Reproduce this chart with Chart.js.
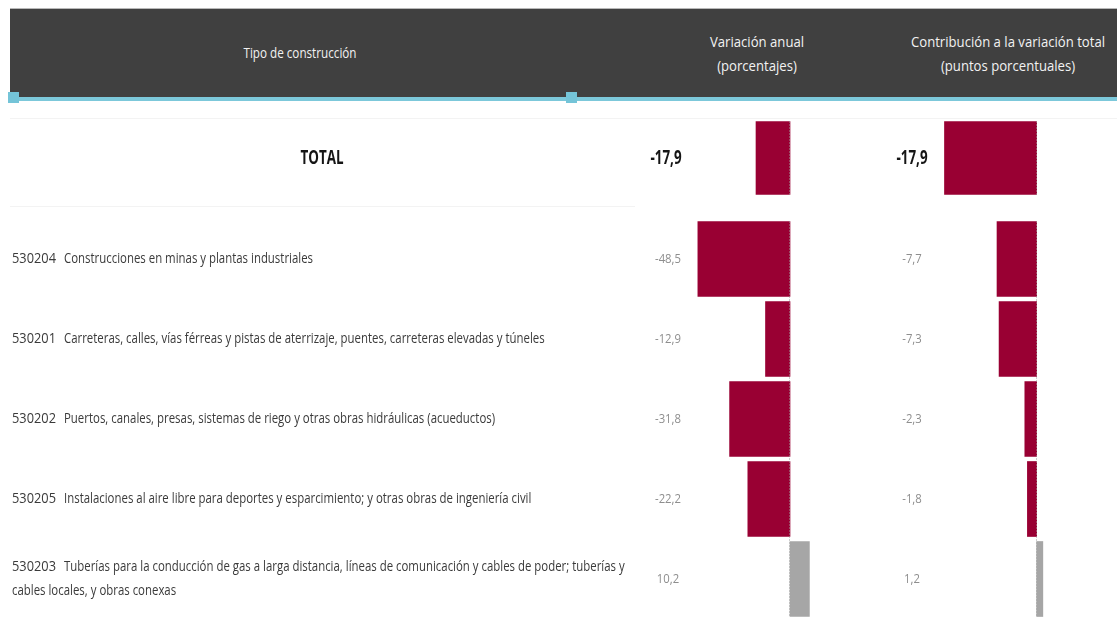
<!DOCTYPE html>
<html>
<head>
<meta charset="utf-8">
<script src="https://cdn.jsdelivr.net/npm/chart.js@4.4.1/dist/chart.umd.min.js"></script>
<style>
  html, body { margin: 0; padding: 0; background: #ffffff; width: 1117px; height: 617px; overflow: hidden; }
  body { position: relative; font-family: "Open Sans", sans-serif; }
  #header { position: absolute; left: 10px; top: 8px; width: 1107px; height: 89px; background: #404040; border-top: 1px solid #b8b8b8; box-sizing: border-box; }
  #cyan { position: absolute; left: 10px; top: 97px; width: 1107px; height: 4px; background: #7cc8da; }
  .sq { position: absolute; top: 92px; width: 11px; height: 11px; background: #74c4d8; }
  .htxt { position: absolute; color: #f2f2f2; font-size: 14px; text-align: center; line-height: 24px; white-space: nowrap; transform-origin: 50% 50%; }
  canvas { position: absolute; left: 0; }
  .sep { position: absolute; height: 1px; background: #f3f3f3; }
</style>
</head>
<body>
<div id="header"></div>
<div id="cyan"></div>
<div class="sq" style="left:8px"></div>
<div class="sq" style="left:566px"></div>
<div class="htxt" id="h0" style="left:150px; width:300px; top:41px;"></div>
<div class="htxt" id="h1" style="left:657px; width:200px; top:30px;"></div>
<div class="htxt" id="h2" style="left:883px; width:250px; top:30px;"></div>
<div class="sep" style="left:10px; top:118px; width:1107px;"></div>
<div class="sep" style="left:10px; top:206px; width:625px;"></div>
<canvas id="cTotal" width="1117" height="80" style="top:118px"></canvas>
<canvas id="cRows" width="1117" height="400" style="top:219px"></canvas>
<script>
// ---------- data ----------
const headerLabels = ["Tipo de construcción", "Variación anual<br>(porcentajes)", "Contribución a la variación total<br>(puntos porcentuales)"];
const totalLabel = ["TOTAL"];
const totalVariation = [-17.9];
const totalContribution = [-17.9];
const codes = ["530204", "530201", "530202", "530205", "530203"];
const categories = [
  "Construcciones en minas y plantas industriales",
  "Carreteras, calles, vías férreas y pistas de aterrizaje, puentes, carreteras elevadas y túneles",
  "Puertos, canales, presas, sistemas de riego y otras obras hidráulicas (acueductos)",
  "Instalaciones al aire libre para deportes y esparcimiento; y otras obras de ingeniería civil",
  "Tuberías para la conducción de gas a larga distancia, líneas de comunicación y cables de poder; tuberías y cables locales, y obras conexas"
];
const annualVariation = [-48.5, -12.9, -31.8, -22.2, 10.2];
const contribution = [-7.7, -7.3, -2.3, -1.8, 1.2];

// ---------- font calibration (the source font is a condensed humanist sans) ----------
const FAM = "'Open Sans', sans-serif";
const mctx = document.createElement('canvas').getContext('2d');
function widthOf(font, txt) { mctx.font = font; return mctx.measureText(txt).width; }
const HEAD_FONT = '14px ' + FAM;
const SX_HEAD = 194 / widthOf(HEAD_FONT, 'Contribución a la variación total');
const SX_HEAD0 = 113 / widthOf(HEAD_FONT, 'Tipo de construcción');
const LAB_FONT = '14px ' + FAM;
const SX_LAB = 249 / widthOf(LAB_FONT, 'Construcciones en minas y plantas industriales');
const SX_CODE = 44 / widthOf(LAB_FONT, '530204');
const VAL_FONT = '13px ' + FAM;
const SX_VAL = 26 / widthOf(VAL_FONT, '-48,5');
const TOT_FONT = 'bold 20px ' + FAM;
const SX_TOT = 43 / widthOf(TOT_FONT, 'TOTAL');

// ---------- header ----------
['h0', 'h1', 'h2'].forEach((id, i) => {
  const el = document.getElementById(id);
  el.innerHTML = headerLabels[i];
  el.style.transform = 'scaleX(' + (i === 0 ? SX_HEAD0 : SX_HEAD).toFixed(3) + ')';
});

const NEG = '#990033', POS = '#a6a6a6';
const fmt = v => v.toFixed(1).replace('.', ',');
const colorsFor = arr => arr.map(v => v < 0 ? NEG : POS);

function drawText(ctx, txt, x, y, align, sx) {
  ctx.save();
  ctx.translate(x, y);
  ctx.scale(sx, 1);
  ctx.textAlign = align;
  ctx.fillText(txt, 0, 0);
  ctx.restore();
}

function wrapText(ctx, text, firstW, restW) {
  const words = text.split(' ');
  const lines = []; let cur = '';
  for (const w of words) {
    const t = cur ? cur + ' ' + w : w;
    const lim = lines.length === 0 ? firstW : restW;
    if (ctx.measureText(t).width > lim && cur) { lines.push(cur); cur = w; } else cur = t;
  }
  if (cur) lines.push(cur);
  return lines;
}

function makeTextPlugin(isTotal) {
  return {
    id: 'rowText',
    afterDatasetsDraw(chart) {
      const ctx = chart.ctx;
      const y = chart.scales.y;
      const x1 = chart.scales.x1, x2 = chart.scales.x2;
      ctx.save();
      // dotted zero lines
      ctx.strokeStyle = '#9a9a9a';
      ctx.lineWidth = 1;
      ctx.setLineDash([1, 2]);
      const metaTop = chart.getDatasetMeta(0).data[0];
      const metaBot = chart.getDatasetMeta(0).data[chart.data.labels.length - 1];
      [x1, x2].forEach(s => {
        const px = Math.round(s.getPixelForValue(0)) - 0.5;
        ctx.beginPath();
        ctx.moveTo(px, metaTop.y - metaTop.height / 2);
        ctx.lineTo(px, metaBot.y + metaBot.height / 2);
        ctx.stroke();
      });
      ctx.setLineDash([]);
      ctx.textBaseline = 'middle';
      chart.data.labels.forEach((lab, i) => {
        const py = y.getPixelForValue(i);
        const v1 = chart.data.datasets[0].data[i];
        const v2 = chart.data.datasets[1].data[i];
        if (isTotal) {
          ctx.font = TOT_FONT;
          ctx.fillStyle = '#151515';
          drawText(ctx, lab, 322, py, 'center', SX_TOT);
          drawText(ctx, fmt(v1), 666, py, 'center', SX_TOT);
          drawText(ctx, fmt(v2), 912, py, 'center', SX_TOT);
        } else {
          ctx.font = LAB_FONT;
          ctx.fillStyle = '#3a3a3a';
          const lines = wrapText(ctx, lab, (625 - 64) / SX_LAB, (625 - 12) / SX_LAB);
          const lh = 24;
          lines.forEach((ln, k) => {
            const ly = py + (k - (lines.length - 1) / 2) * lh;
            if (k === 0) {
              drawText(ctx, codes[i], 12, ly, 'left', SX_CODE);
              drawText(ctx, ln, 64, ly, 'left', SX_LAB);
            } else {
              drawText(ctx, ln, 12, ly, 'left', SX_LAB);
            }
          });
          ctx.font = VAL_FONT;
          ctx.fillStyle = '#8e8e8e';
          drawText(ctx, fmt(v1), 668, py, 'center', SX_VAL);
          drawText(ctx, fmt(v2), 912, py, 'center', SX_VAL);
        }
      });
      ctx.restore();
    }
  };
}

function buildChart(id, labels, d1, d2, thickness, isTotal) {
  return new Chart(document.getElementById(id), {
    type: 'bar',
    data: {
      labels: labels,
      datasets: [
        { data: d1, xAxisID: 'x1', backgroundColor: colorsFor(d1), grouped: false, barThickness: thickness, borderWidth: 0 },
        { data: d2, xAxisID: 'x2', backgroundColor: colorsFor(d2), grouped: false, barThickness: thickness, borderWidth: 0 }
      ]
    },
    options: {
      indexAxis: 'y',
      responsive: false,
      animation: false,
      layout: { padding: 0 },
      plugins: { legend: { display: false }, tooltip: { enabled: false }, title: { display: false } },
      scales: {
        y: { type: 'category', display: false, offset: true },
        x1: { type: 'linear', display: false, min: -415.8, max: 172.1 },
        x2: { type: 'linear', display: false, min: -201.3, max: 15.6 }
      }
    },
    plugins: [makeTextPlugin(isTotal)]
  });
}

buildChart('cTotal', totalLabel, totalVariation, totalContribution, 73, true);
buildChart('cRows', categories, annualVariation, contribution, 75, false);
</script>
</body>
</html>
